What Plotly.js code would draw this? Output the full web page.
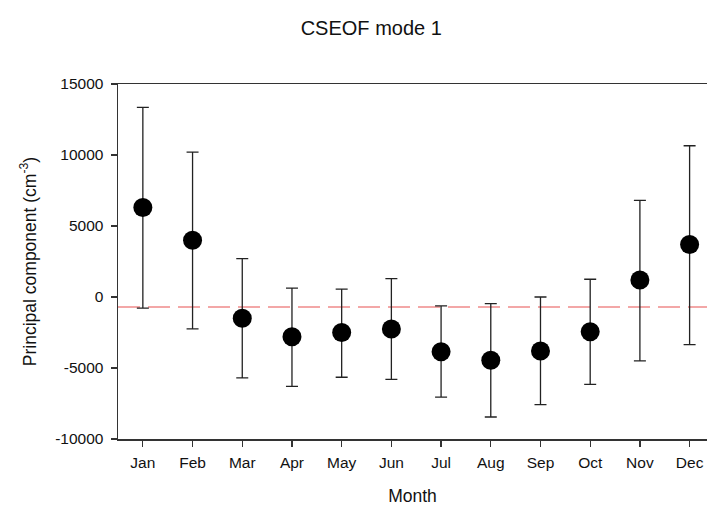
<!DOCTYPE html>
<html>
<head>
<meta charset="utf-8">
<script src="https://cdn.plot.ly/plotly-3.0.1.min.js"></script>
<style>html,body{margin:0;padding:0;background:#fff;}#chart{width:707px;height:506px;}</style>
</head>
<body>
<div id="chart"></div>
<script>
const months = ["Jan","Feb","Mar","Apr","May","Jun","Jul","Aug","Sep","Oct","Nov","Dec"];
const values = [6300, 4000, -1500, -2800, -2500, -2250, -3850, -4450, -3800, -2450, 1200, 3700];
const upper  = [13350, 10200, 2700, 630, 560, 1300, -630, -470, 0, 1250, 6800, 10650];
const lower  = [-780, -2250, -5700, -6300, -5650, -5800, -7050, -8450, -7580, -6150, -4500, -3350];
const refLine = -710;
const yTicks = [-10000, -5000, 0, 5000, 10000, 15000];

const errPlus = upper.map((u, i) => u - values[i]);
const errMinus = values.map((v, i) => v - lower[i]);

const traces = [
  {
    x: months, y: values, type: 'scatter', mode: 'markers',
    marker: {color: '#000', size: 19},
    error_y: {type: 'data', symmetric: false, array: errPlus, arrayminus: errMinus,
              color: '#222', thickness: 1.3, width: 6},
    showlegend: false, cliponaxis: false
  }
];

const layout = {
  width: 707, height: 506,
  margin: {l: 118, r: 0, t: 84, b: 67},
  paper_bgcolor: '#fff', plot_bgcolor: '#fff',
  font: {family: 'Liberation Sans, Arial, sans-serif', color: '#000', size: 15},
  title: {text: 'CSEOF mode 1', font: {size: 20, color: '#111'}, xref: 'paper', x: 0.43, xanchor: 'center', y: 0.945, yanchor: 'middle'},
  xaxis: {
    type: 'category', range: [-0.5, 11.35],
    showline: true, linecolor: '#333', linewidth: 1.5, mirror: true,
    ticks: 'outside', ticklen: 6, tickcolor: '#333', tickwidth: 1.2,
    ticklabelstandoff: 3,
    showgrid: false, zeroline: false,
    tickfont: {size: 15.5, color: '#111'},
    title: {text: 'Month', font: {size: 17.5, color: '#111'}, standoff: 20}
  },
  yaxis: {
    range: [-10000, 15000], tickvals: yTicks, ticktext: yTicks.map(String),
    showline: true, linecolor: '#333', linewidth: 1.5, mirror: false,
    ticks: 'outside', ticklen: 6, tickcolor: '#333', tickwidth: 1.2,
    ticklabelstandoff: 4,
    showgrid: false, zeroline: false,
    tickfont: {size: 15.5, color: '#111'},
    title: {text: 'Principal component (cm<sup>-3</sup>)', font: {size: 17.5, color: '#111'}, standoff: 14}
  },
  shapes: [
    {type: 'line', xref: 'paper', x0: 0, x1: 1, yref: 'y', y0: refLine, y1: refLine,
     line: {color: '#f08a8a', width: 1.5, dash: '22px,8px'}, layer: 'below'}
  ]
};

Plotly.newPlot('chart', traces, layout, {displayModeBar: false, staticPlot: true});
</script>
</body>
</html>
